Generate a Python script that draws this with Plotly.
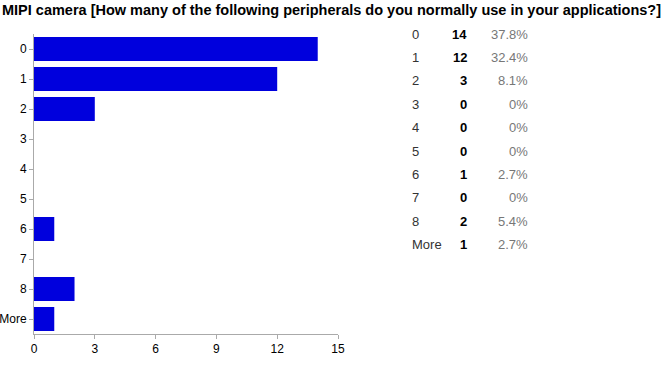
import plotly.graph_objects as go

categories = ["0", "1", "2", "3", "4", "5", "6", "7", "8", "More"]
counts = [14, 12, 3, 0, 0, 0, 1, 0, 2, 1]
percents = ["37.8%", "32.4%", "8.1%", "0%", "0%", "0%", "2.7%", "0%", "5.4%", "2.7%"]
x_ticks = [0, 3, 6, 9, 12, 15]

title = "MIPI camera [How many of the following peripherals do you normally use in your applications?]"

W, H = 664, 370
L, R, T, B = 34, 326, 34, 36
pw, ph = W - L - R, H - T - B

def px(x):
    return (x - L) / pw

def py(y):
    return (H - B - y) / ph

fig = go.Figure()
fig.add_trace(go.Bar(
    x=counts, y=categories, orientation="h",
    marker=dict(color="#0000dd", line=dict(width=0)),
))

annotations = [dict(
    text="<b>" + title + "</b>", x=0, y=py(10), xref="paper", yref="paper",
    xshift=-L, xanchor="left", yanchor="middle", showarrow=False,
    font=dict(family="Liberation Sans, Arial", size=14.5, color="black"),
)]

row_y0, row_dy = 34, 23.4
for i, (c, n, p) in enumerate(zip(categories, counts, percents)):
    yy = py(row_y0 + i * row_dy)
    annotations.append(dict(text=c, x=px(410), y=yy, xref="paper", yref="paper",
                            xanchor="left", yanchor="middle", showarrow=False,
                            font=dict(family="Liberation Sans, Arial", size=13, color="#333")))
    annotations.append(dict(text="<b>%d</b>" % n, x=px(469), y=yy, xref="paper", yref="paper",
                            xanchor="right", yanchor="middle", showarrow=False,
                            font=dict(family="Liberation Sans, Arial", size=13, color="black")))
    annotations.append(dict(text=p, x=px(530), y=yy, xref="paper", yref="paper",
                            xanchor="right", yanchor="middle", showarrow=False,
                            font=dict(family="Liberation Sans, Arial", size=13, color="#777")))

fig.update_layout(
    width=W, height=H,
    margin=dict(l=L, r=R, t=T, b=B, autoexpand=False),
    paper_bgcolor="white", plot_bgcolor="white",
    showlegend=False,
    bargap=0.2,
    annotations=annotations,
    font=dict(family="Liberation Sans, Arial", size=12, color="black"),
    xaxis=dict(range=[0, 15], tickvals=x_ticks, showgrid=False, zeroline=False,
               showline=True, linecolor="#aaaaaa", linewidth=1,
               ticks="outside", ticklen=4, tickcolor="#aaaaaa", automargin=False,
               tickfont=dict(size=12, color="black"), fixedrange=True),
    yaxis=dict(type="category", categoryorder="array", categoryarray=categories,
               autorange="reversed", showgrid=False, zeroline=False,
               showline=True, linecolor="#aaaaaa", linewidth=1,
               ticks="outside", ticklen=4, tickcolor="#aaaaaa", automargin=False,
               tickfont=dict(size=12, color="black"), fixedrange=True),
)

fig.write_html("out.html", config={"displayModeBar": False},
               post_script="document.body.style.margin='0';document.body.style.padding='0';")
